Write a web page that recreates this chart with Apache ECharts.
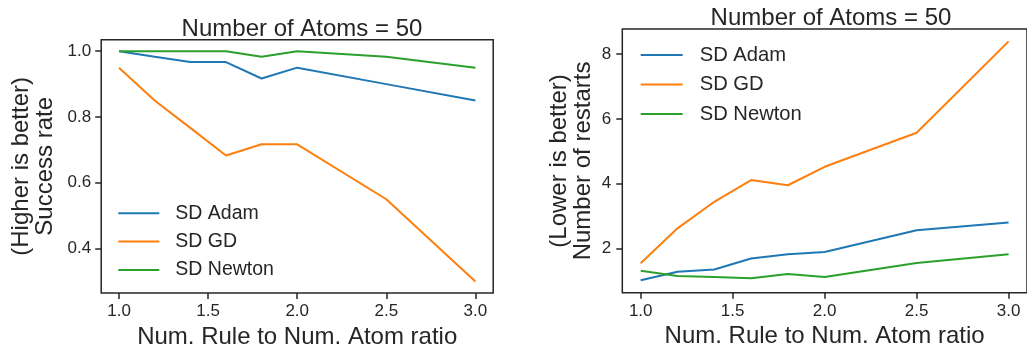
<!DOCTYPE html>
<html>
<head>
<meta charset="utf-8">
<script src="https://cdn.jsdelivr.net/npm/echarts@6/dist/echarts.min.js"></script>
<style>
html,body{margin:0;padding:0;background:#fff;}
#chart{width:1027px;height:354px;}
</style>
</head>
<body>
<div id="chart"></div>
<script>
// ---- data ----
const ratios = [1.0, 1.2, 1.4, 1.6, 1.8, 2.0, 2.5, 3.0];
const seriesNames = ['SD Adam', 'SD GD', 'SD Newton'];
const successAdam   = [1.0, 0.983, 0.967, 0.967, 0.917, 0.95, 0.90, 0.85];
const successGD     = [0.95, 0.85, 0.767, 0.683, 0.717, 0.717, 0.55, 0.30];
const successNewton = [1.0, 1.0, 1.0, 1.0, 0.983, 1.0, 0.983, 0.95];
const restartsAdam   = [1.02, 1.28, 1.35, 1.69, 1.82, 1.89, 2.56, 2.80];
const restartsGD     = [1.54, 2.62, 3.44, 4.11, 3.95, 4.52, 5.57, 8.39];
const restartsNewton = [1.31, 1.15, 1.12, 1.08, 1.21, 1.12, 1.55, 1.82];
const xTicks = [1.0, 1.5, 2.0, 2.5, 3.0];
const yTicksLeft = [0.4, 0.6, 0.8, 1.0];
const yTicksRight = [2, 4, 6, 8];
const titleText = 'Number of Atoms = 50';
const xName = 'Num. Rule to Num. Atom ratio';
const yNameLeft = '(Higher is better)\nSuccess rate';
const yNameRight = '(Lower is better)\nNumber of restarts';

const colors = ['#1f77b4', '#ff7f0e', '#2ca02c'];
const FONT = 'Liberation Sans, Arial, sans-serif';
const TXT = '#262626';

function pairs(xs, ys){ return xs.map((x,i)=>[x, ys[i]]); }

function xAxisCfg(gridIndex, margin){
  return {
    type:'value', gridIndex, min:0.9, max:3.1,
    axisLine:{show:false},
    axisTick:{show:true, customValues:xTicks, length:6, lineStyle:{color:TXT, width:1.5}},
    axisLabel:{show:true, customValues:xTicks, margin:margin, color:TXT, fontFamily:FONT, fontSize:17,
      formatter:v=>v.toFixed(1)},
    splitLine:{show:false},
    name:xName, nameLocation:'middle', nameGap:32,
    nameTextStyle:{color:TXT, fontFamily:FONT, fontSize:24}
  };
}
function yAxisCfg(gridIndex, min, max, ticks, fmt, margin, name, nameGap){
  return {
    type:'value', gridIndex, min, max,
    axisLine:{show:false},
    axisTick:{show:true, customValues:ticks, length:6, lineStyle:{color:TXT, width:1.5}},
    axisLabel:{show:true, customValues:ticks, margin:margin, color:TXT, fontFamily:FONT, fontSize:17,
      formatter:fmt},
    splitLine:{show:false},
    name, nameLocation:'middle', nameGap, nameRotate:90,
    nameTextStyle:{color:TXT, fontFamily:FONT, fontSize:24, lineHeight:24}
  };
}

const leftVals = [successAdam, successGD, successNewton];
const rightVals = [restartsAdam, restartsGD, restartsNewton];

const series = [];
seriesNames.forEach((n,i)=>{
  series.push({name:n, type:'line', xAxisIndex:0, yAxisIndex:0, data:pairs(ratios, leftVals[i]),
    showSymbol:false, symbol:'none', lineStyle:{width:2, color:colors[i]}, itemStyle:{color:colors[i]}, animation:false});
});
seriesNames.forEach((n,i)=>{
  series.push({name:n+' ', type:'line', xAxisIndex:1, yAxisIndex:1, data:pairs(ratios, rightVals[i]),
    showSymbol:false, symbol:'none', lineStyle:{width:2, color:colors[i]}, itemStyle:{color:colors[i]}, animation:false});
});

const option = {
  animation:false,
  backgroundColor:'#fff',
  title:[
    {text:titleText, left:297, top:12.5, textAlign:'center', textStyle:{color:TXT, fontFamily:FONT, fontSize:24, fontWeight:'normal'}},
    {text:titleText, left:826, top:1.5, textAlign:'center', textStyle:{color:TXT, fontFamily:FONT, fontSize:24, fontWeight:'normal'}}
  ],
  grid:[
    {left:101.2, top:39.7, width:392, height:254.9, show:true, borderColor:TXT, borderWidth:1.5, backgroundColor:'transparent'},
    {left:622.3, top:29.1, width:405.2, height:263.7, show:true, borderColor:TXT, borderWidth:1.5, backgroundColor:'transparent'}
  ],
  xAxis:[xAxisCfg(0,10), xAxisCfg(1,10)],
  yAxis:[
    yAxisCfg(0, 0.265, 1.035, yTicksLeft, v=>v.toFixed(1), 10, yNameLeft, 44),
    yAxisCfg(1, 0.63, 8.77, yTicksRight, v=>String(v), 11, yNameRight, 27)
  ],
  legend:[
    {data:seriesNames, orient:'vertical', left:118.3, top:203.3, padding:0, itemWidth:41, itemHeight:2, itemGap:8.3, icon:'rect',
     textStyle:{color:TXT, fontFamily:FONT, fontSize:19.5, lineHeight:20, padding:[0,0,0,11]}},
    {data:seriesNames.map(n=>n+' '), orient:'vertical', left:640.7, top:44.7, padding:0, itemWidth:42, itemHeight:2, itemGap:9.0, icon:'rect',
     textStyle:{color:TXT, fontFamily:FONT, fontSize:20.2, lineHeight:20.5, padding:[0,0,0,12]},
     formatter:n=>n.trim()}
  ],
  series
};

const chart = echarts.init(document.getElementById('chart'), null, {renderer:'canvas'});
chart.setOption(option);
</script>
</body>
</html>
